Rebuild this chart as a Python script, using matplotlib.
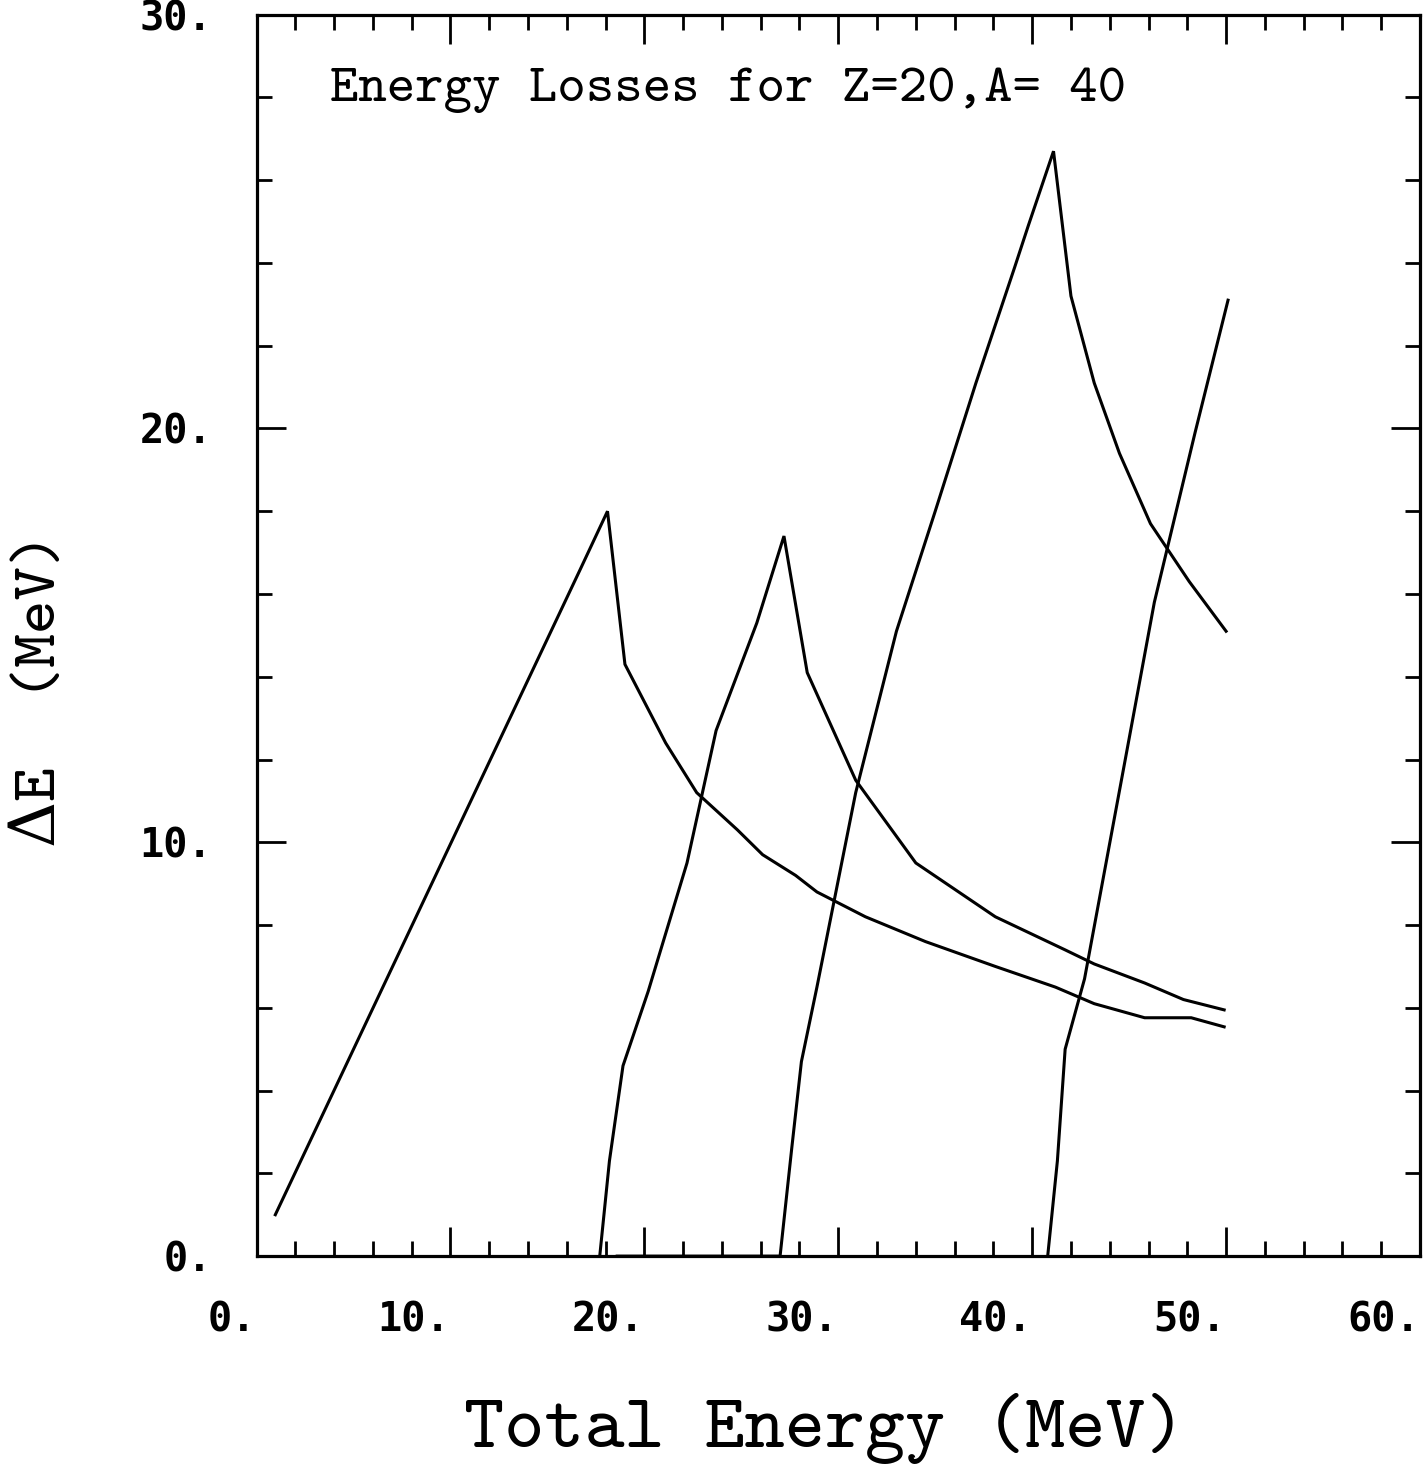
#!/usr/bin/python3
# -*- coding: utf-8 -*-
"""
Energy losses for Z=20, A=40 in a detector stack
"""
import numpy as np
import matplotlib
matplotlib.use("Agg")
import matplotlib.pyplot as plt

# curve data (total energy / MeV, delta E / MeV)
e1 = [0.97, 16.7, 18.1, 19.0, 21.1, 22.7, 24.8, 26.1, 27.8, 28.9, 31.4, 34.5, 38.1, 41.2, 43.2, 45.8, 48.2, 49.9]
de1 = [1.0, 16.6, 18.0, 14.3, 12.4, 11.2, 10.3, 9.7, 9.2, 8.8, 8.2, 7.6, 7.0, 6.5, 6.1, 5.76, 5.76, 5.54]

e2 = [17.7, 18.2, 18.9, 20.2, 22.2, 23.7, 25.8, 27.2, 28.4, 30.9, 34.0, 38.1, 41.7, 43.2, 45.8, 47.8, 49.9]
de2 = [0.0, 2.3, 4.6, 6.4, 9.5, 12.7, 15.3, 17.4, 14.1, 11.5, 9.5, 8.2, 7.4, 7.06, 6.6, 6.2, 5.95]

e3 = [18.6, 27.0, 27.6, 28.1, 28.9, 30.9, 33.0, 35.0, 37.1, 39.1, 39.8, 41.1, 42.0, 43.2, 44.5, 46.1, 48.1, 50.0]
de3 = [0.0, 0.0, 2.6, 4.7, 6.5, 11.2, 15.1, 18.0, 21.1, 23.9, 24.9, 26.7, 23.2, 21.1, 19.4, 17.7, 16.3, 15.1]

e4 = [40.8, 41.3, 41.7, 42.7, 44.8, 46.3, 48.4, 50.1]
de4 = [0.0, 2.3, 5.0, 6.7, 12.0, 15.8, 19.9, 23.1]

xticks = [0, 10, 20, 30, 40, 50, 60]
xticklabels = ["0.", "10.", "20.", "30.", "40.", "50.", "60."]
yticks = [0, 10, 20, 30]
yticklabels = ["0.", "10.", "20.", "30."]

lab_font = ["DejaVu Sans Mono"]
txt_font = ["cmtt10", "DejaVu Serif"]

fig = plt.figure(figsize=(14.25, 14.64), dpi=100)
ax = fig.add_axes([0.180, 0.142, 0.8165, 0.848])

for e, de in ((e1, de1), (e2, de2), (e3, de3), (e4, de4)):
    ax.plot(e, de, 'k-', lw=2.2, solid_joinstyle='miter')

ax.set_xlim(0, 60)
ax.set_ylim(0, 30)
ax.set_xticks(xticks)
ax.set_xticklabels(xticklabels)
ax.set_yticks(yticks)
ax.set_yticklabels(yticklabels)
ax.set_xticks(np.arange(0, 61, 2), minor=True)
ax.set_yticks(np.arange(0, 31, 2), minor=True)
ax.tick_params(which='both', direction='in', top=True, right=True, width=2.0, color='k')
ax.tick_params(which='major', length=21)
ax.tick_params(which='minor', length=11)
ax.tick_params(axis='x', which='major', pad=32)
ax.tick_params(axis='y', which='major', pad=32)
for lab in ax.get_xticklabels():
    lab.set_ha('right')
    lab.set_family(lab_font)
    lab.set_fontsize(29)
    lab.set_weight('bold')
for lab in ax.get_yticklabels():
    lab.set_family(lab_font)
    lab.set_fontsize(29)
    lab.set_weight('bold')
for sp in ax.spines.values():
    sp.set_linewidth(2.3)

ax.text(0.063, 0.939, "Energy Losses for Z=20,A= 40", transform=ax.transAxes,
        ha='left', va='center', fontsize=39, family=txt_font)

fig.text(0.579, 0.024, "Total Energy (MeV)", ha='center', va='center',
         fontsize=55, family=txt_font)
fig.text(0.030, 0.529, "\u0394E  (MeV)", ha='center', va='center', rotation=90,
         fontsize=46, family=txt_font)

plt.savefig("out.png", dpi=100)
